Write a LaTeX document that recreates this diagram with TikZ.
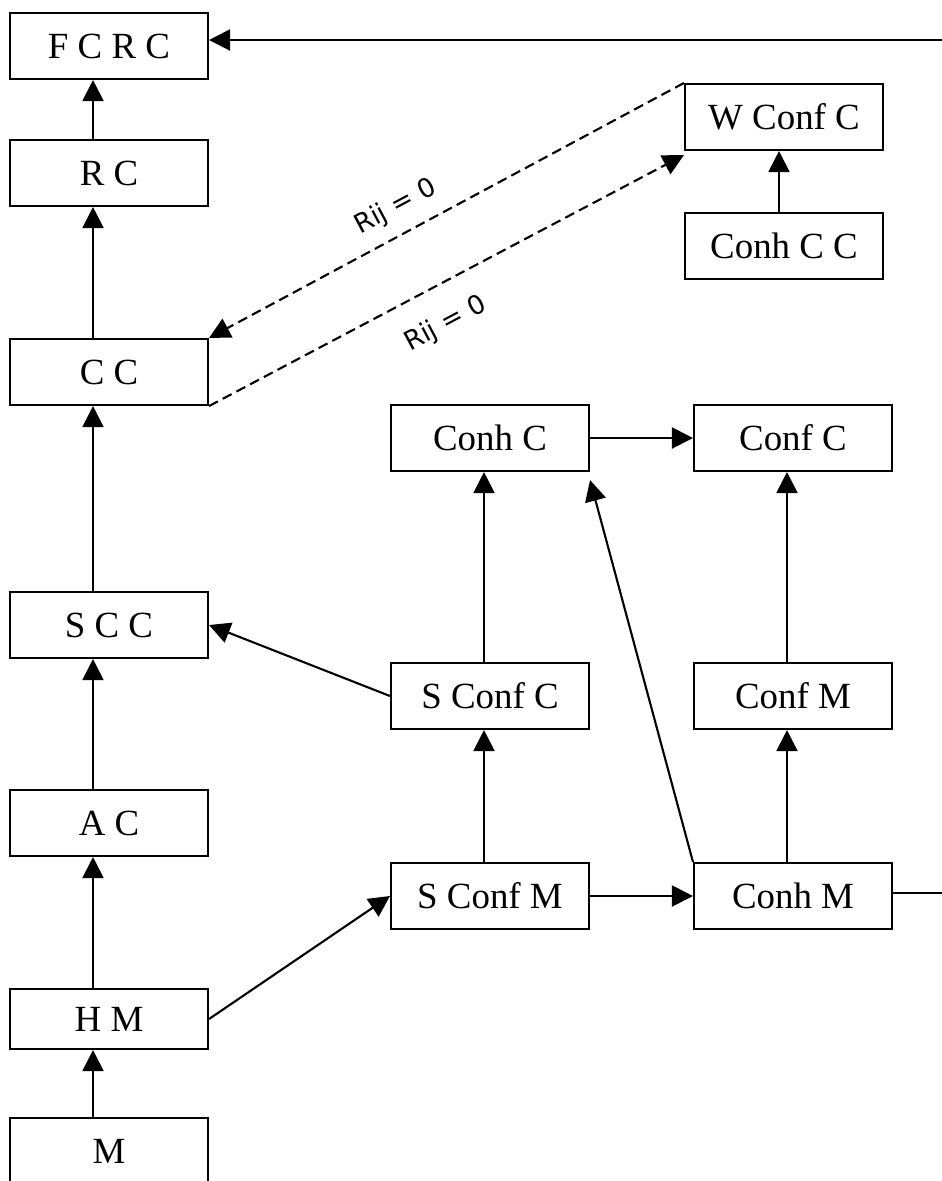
\documentclass[tikz,border=0pt]{standalone}
\usepackage{fontspec}
\setmainfont{Liberation Serif}
\newfontfamily\handfont{DejaVu Sans}
\usetikzlibrary{arrows.meta,calc}

\begin{document}
\begin{tikzpicture}[x=0.02cm,y=-0.02cm,
    box/.style={draw,line width=1.2pt,minimum width=3.96cm,minimum height=1.32cm,inner sep=0pt,
        font=\fontsize{21}{25}\selectfont},
    arr/.style={line width=1.2pt,-{Triangle[length=0.42cm,width=0.42cm]}},
    dash line/.style={line width=1.2pt,dash pattern=on 0.2cm off 0.11cm},
    hand/.style={font=\handfont\fontsize{15}{18}\selectfont}]
    \useasboundingbox (0,0) rectangle (942,1181);

    % left column
    \node[box] (FCRC) at (109,46) {F C R C};
    \node[box] (RC) at (109,173) {R C};
    \node[box] (CC) at (109,372) {C C};
    \node[box] (SCC) at (109,625) {S C C};
    \node[box] (AC) at (109,823) {A C};
    \node[box,minimum height=1.2cm] (HM) at (109,1019) {H M};
    \node[box] (M) at (109,1151) {M};

    % right part
    \node[box] (WConfC) at (784,117) {W Conf C};
    \node[box] (ConhCC) at (784,246) {Conh C C};
    \node[box] (ConhC) at (490,438) {Conh C};
    \node[box] (ConfC) at (793,438) {Conf C};
    \node[box] (SConfC) at (490,696) {S Conf C};
    \node[box] (ConfM) at (793,696) {Conf M};
    \node[box] (SConfM) at (490,896) {S Conf M};
    \node[box] (ConhM) at (793,896) {Conh M};

    \coordinate (outF) at (942,40);  % line leaving the page
    \coordinate (outM) at (942,893);

    \foreach \a/\b in {M/HM,HM/AC,AC/SCC,SCC/CC,CC/RC,RC/FCRC}
        \draw[arr] ([xshift=-0.32cm]\a.north) -- ([xshift=-0.32cm]\b.south);
    \foreach \a/\b in {SConfM/SConfC,SConfC/ConhC,ConhM/ConfM,ConfM/ConfC}
        \draw[arr] ([xshift=-0.12cm]\a.north) -- ([xshift=-0.12cm]\b.south);
    \draw[arr] ([xshift=-0.1cm]ConhCC.north) -- ([xshift=-0.1cm]WConfC.south);

    \draw[arr] (ConhC.east) -- (ConfC.west);
    \draw[arr] (SConfM.east) -- (ConhM.west);
    \draw[arr] (HM.east) -- (SConfM.west);
    \draw[arr] (SConfC.west) -- (SCC.east);
    \draw[arr] (ConhM.north west) -- ($(ConhC.south east)+(0,8)$);
    \draw[arr] (outF) -- (FCRC.east |- outF);
    \draw[line width=1.2pt] (ConhM.east |- outM) -- (outM);

    % Rij = 0 links
    \draw[dash line,-{Triangle[length=0.42cm,width=0.42cm]}] (WConfC.north west) -- (CC.north east);
    \draw[dash line,-{Triangle[length=0.42cm,width=0.42cm]}] (CC.south east) -- ($(WConfC.south west)+(0,4)$);
    \node[hand,rotate=28] (lab1) at (396,207) {Rij = 0};
    \node[hand,rotate=28] (lab2) at (446,324) {Rij = 0};
\end{tikzpicture}
\end{document}
